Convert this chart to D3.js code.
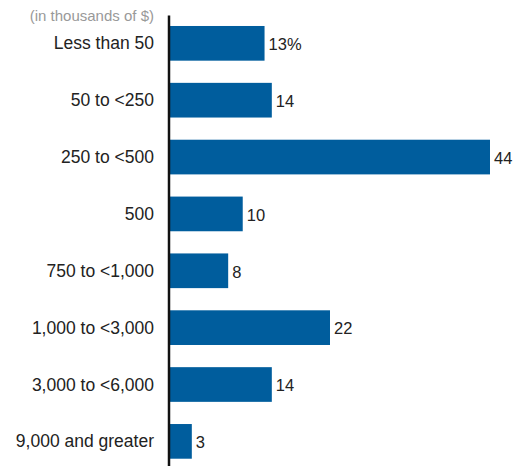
<!DOCTYPE html>
<html>
<head>
<meta charset="utf-8">
<script src="https://cdn.jsdelivr.net/npm/d3@7"></script>
<style>
  html, body { margin: 0; padding: 0; background: #fff; }
  svg { display: block; }
</style>
</head>
<body>
<svg id="chart" width="514" height="466"></svg>
<script>
const categories = ["Less than 50", "50 to <250", "250 to <500", "500", "750 to <1,000", "1,000 to <3,000", "3,000 to <6,000", "9,000 and greater"];
const values = [13, 14, 44, 10, 8, 22, 14, 3];
const valueLabels = ["13%", "14", "44", "10", "8", "22", "14", "3"];
const subtitle = "(in thousands of $)";

const svg = d3.select("#chart");
const font = "'Liberation Sans', Arial, sans-serif";

const x = d3.scaleLinear().domain([0, 44]).range([170, 490]);
const y = d3.scaleBand().domain(categories).range([14.9, 469.8]).paddingInner(0.39).paddingOuter(0.195);

svg.append("g").selectAll("rect").data(values).join("rect")
  .attr("x", x(0))
  .attr("y", (d, i) => y(categories[i]))
  .attr("width", d => x(d) - x(0))
  .attr("height", y.bandwidth())
  .attr("fill", "#005d9d");

// axis line
const yAxis = d3.axisLeft(y).tickSize(0).tickPadding(14.5);
const ax = svg.append("g").attr("transform", "translate(168.5,0)").call(yAxis);
ax.select(".domain").attr("stroke", "#111").attr("stroke-width", 2.5);
ax.selectAll(".tick text")
  .attr("font-family", font)
  .attr("font-size", "17.5px")
  .attr("fill", "#222")
  .attr("dy", "0.35em");

svg.append("g").selectAll("text").data(values).join("text")
  .attr("x", d => x(d) + 4)
  .attr("y", (d, i) => y(categories[i]) + y.bandwidth() / 2 + 1)
  .attr("dy", "0.35em")
  .attr("font-family", font)
  .attr("font-size", "16.5px")
  .attr("fill", "#222")
  .text((d, i) => valueLabels[i]);

svg.append("text")
  .attr("x", 154)
  .attr("y", 20.5)
  .attr("text-anchor", "end")
  .attr("font-family", font)
  .attr("font-size", "15px")
  .attr("fill", "#999")
  .text(subtitle);
</script>
</body>
</html>
